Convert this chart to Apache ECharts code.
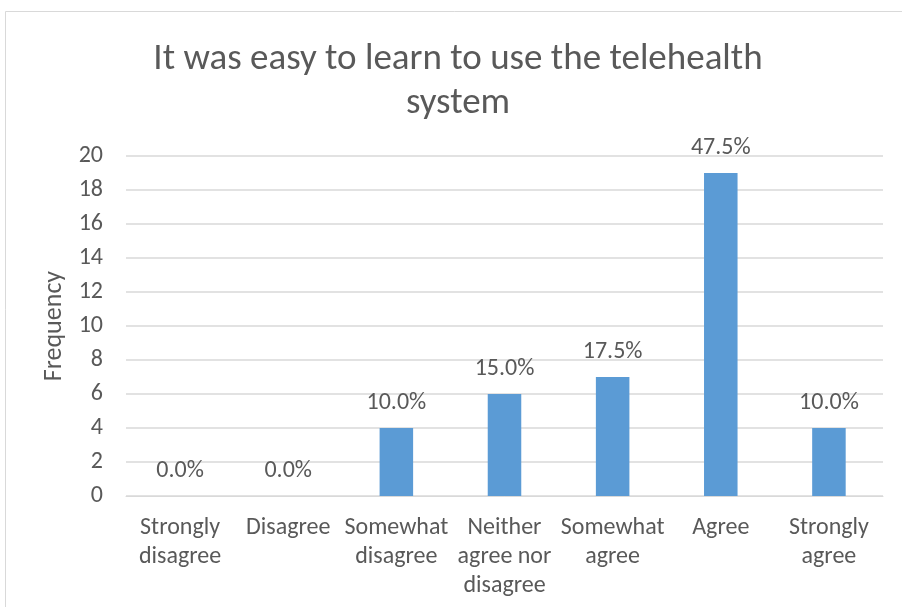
<!DOCTYPE html>
<html>
<head>
<meta charset="utf-8">
<script src="https://cdn.jsdelivr.net/npm/echarts@6/dist/echarts.min.js"></script>
<style>
  html, body { margin: 0; padding: 0; background: #fff; }
  #chart { width: 902px; height: 607px; }
</style>
</head>
<body>
<div id="chart"></div>
<script>
// Survey responses: frequency per answer
const categories = [
  "Strongly\ndisagree",
  "Disagree",
  "Somewhat\ndisagree",
  "Neither\nagree nor\ndisagree",
  "Somewhat\nagree",
  "Agree",
  "Strongly\nagree"
];
const frequencies = [0, 0, 4, 6, 7, 19, 4];
const yTicks = { min: 0, max: 20, interval: 2 };

const total = frequencies.reduce((a, b) => a + b, 0);
const fontFamily = "Carlito, Lato, 'Liberation Sans', sans-serif";
const textColor = "#595959";

const chart = echarts.init(document.getElementById("chart"), null, { renderer: "canvas" });
chart.setOption({
  animation: false,
  backgroundColor: "#ffffff",
  graphic: [{
    type: "rect",
    shape: { x: 5.5, y: 11.5, width: 960, height: 700 },
    style: { fill: "none", stroke: "#d9d9d9", lineWidth: 1 },
    silent: true
  }],
  title: {
    text: "It was easy to learn to use the telehealth\nsystem",
    left: 453,
    top: 33,
    textAlign: "center",
    textStyle: {
      fontFamily: fontFamily,
      fontSize: 37,
      fontWeight: "normal",
      color: textColor,
      lineHeight: 44
    }
  },
  grid: { left: 126, right: 19, top: 156, bottom: 111, containLabel: false },
  xAxis: {
    type: "category",
    data: categories,
    axisLine: { show: true, lineStyle: { color: "#d9d9d9", width: 1 } },
    axisTick: { show: false },
    axisLabel: {
      interval: 0,
      margin: 17,
      color: textColor,
      fontFamily: fontFamily,
      fontSize: 24,
      lineHeight: 29
    }
  },
  yAxis: {
    type: "value",
    min: yTicks.min,
    max: yTicks.max,
    interval: yTicks.interval,
    name: "Frequency",
    nameLocation: "middle",
    nameGap: 58,
    nameRotate: 90,
    nameTextStyle: { color: textColor, fontFamily: fontFamily, fontSize: 26 },
    axisLine: { show: false },
    axisTick: { show: false },
    axisLabel: { margin: 23, color: textColor, fontFamily: fontFamily, fontSize: 24 },
    splitLine: { lineStyle: { color: "#d9d9d9", width: 1.5 } }
  },
  series: [{
    type: "bar",
    data: frequencies,
    barWidth: "31%",
    itemStyle: { color: "#5b9bd5" },
    label: {
      show: true,
      position: "top",
      distance: 13,
      color: textColor,
      fontFamily: fontFamily,
      fontSize: 24,
      formatter: p => (p.value / total * 100).toFixed(1) + "%"
    }
  }]
});
</script>
</body>
</html>
